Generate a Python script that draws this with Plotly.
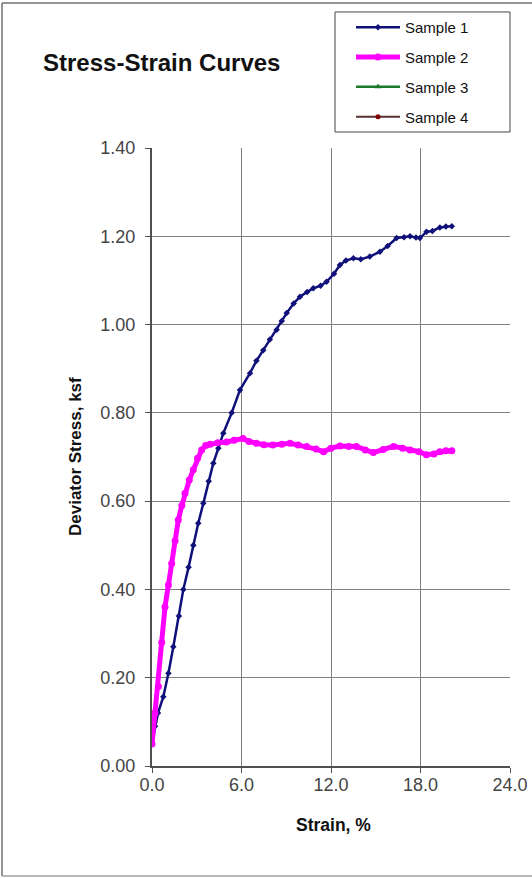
import plotly.graph_objects as go

# ---- data ----
s1_strain = [0.0, 0.2, 0.4, 0.76, 1.1, 1.43, 1.8, 2.1, 2.45, 2.77, 3.1, 3.44, 3.8, 4.11, 4.45,
             4.78, 5.34, 5.9, 6.57, 7.0, 7.46, 7.9, 8.36, 8.7, 9.03, 9.5, 9.92, 10.4, 10.81,
             11.3, 11.7, 12.2, 12.6, 13.0, 13.5, 14.0, 14.6, 15.28, 15.8, 16.4, 16.9, 17.3,
             17.7, 17.96, 18.4, 18.8, 19.3, 19.7, 20.1]
s1_stress = [0.05, 0.09, 0.12, 0.157, 0.21, 0.27, 0.34, 0.40, 0.45, 0.50, 0.55, 0.595, 0.645,
             0.686, 0.72, 0.754, 0.80, 0.852, 0.89, 0.918, 0.942, 0.966, 0.988, 1.008, 1.026,
             1.048, 1.063, 1.074, 1.082, 1.088, 1.097, 1.115, 1.135, 1.145, 1.15, 1.148, 1.154,
             1.165, 1.178, 1.196, 1.198, 1.20, 1.197, 1.196, 1.21, 1.212, 1.22, 1.222, 1.223]

s2_strain = [0.0, 0.2, 0.43, 0.65, 0.87, 1.1, 1.32, 1.55, 1.76, 2.0, 2.21, 2.5, 2.77, 3.05,
             3.33, 3.6, 3.89, 4.4, 5.0, 5.5, 6.1, 6.5, 7.0, 7.5, 8.1, 8.7, 9.25, 9.8, 10.37,
             11.0, 11.5, 12.0, 12.6, 13.2, 13.7, 14.3, 14.83, 15.5, 16.2, 16.8, 17.3, 17.9,
             18.4, 18.9, 19.3, 19.7, 20.1]
s2_stress = [0.05, 0.12, 0.18, 0.28, 0.36, 0.41, 0.459, 0.51, 0.557, 0.59, 0.618, 0.648, 0.671,
             0.697, 0.716, 0.726, 0.729, 0.732, 0.734, 0.738, 0.742, 0.735, 0.731, 0.728, 0.727,
             0.729, 0.731, 0.727, 0.724, 0.718, 0.712, 0.72, 0.725, 0.724, 0.724, 0.716, 0.71,
             0.717, 0.724, 0.72, 0.716, 0.712, 0.705, 0.707, 0.712, 0.714, 0.714]

series_names = ["Sample 1", "Sample 2", "Sample 3", "Sample 4"]
x_ticks = [0, 6, 12, 18, 24]
x_tick_labels = ["0.0", "6.0", "12.0", "18.0", "24.0"]
y_ticks = [0.0, 0.2, 0.4, 0.6, 0.8, 1.0, 1.2, 1.4]
y_tick_labels = ["0.00", "0.20", "0.40", "0.60", "0.80", "1.00", "1.20", "1.40"]

FONT = "Liberation Sans, Arial, sans-serif"

fig = go.Figure()
fig.add_trace(go.Scatter(
    x=s1_strain, y=s1_stress, name=series_names[0], mode="lines+markers",
    line=dict(color="#10107a", width=2.5),
    marker=dict(symbol="diamond", size=5, color="#10107a"),
    legendgroup="g1"))
fig.add_trace(go.Scatter(
    x=s2_strain, y=s2_stress, name=series_names[1], mode="lines+markers",
    line=dict(color="#ff00ff", width=5),
    marker=dict(symbol="circle", size=7, color="#ff00ff"),
    legendgroup="g2"))
fig.add_trace(go.Scatter(
    x=[None], y=[None], name=series_names[2], mode="lines+markers",
    line=dict(color="#1a7a2a", width=2.5),
    marker=dict(symbol="triangle-up", size=6, color="#1a7a2a"),
    legendgroup="g3"))
fig.add_trace(go.Scatter(
    x=[None], y=[None], name=series_names[3], mode="lines+markers",
    line=dict(color="#5a3030", width=2),
    marker=dict(symbol="circle", size=5, color="#800000"),
    legendgroup="g4"))

# outer frame (left, top, bottom edges)
frame = dict(color="#707070", width=1.5)
fig.add_shape(type="line", xref="paper", yref="paper", x0=-0.419, x1=-0.419, y0=-0.178, y1=1.2346, line=frame)
fig.add_shape(type="line", xref="paper", yref="paper", x0=-0.419, x1=1.07, y0=1.2346, y1=1.2346, line=frame)
fig.add_shape(type="line", xref="paper", yref="paper", x0=-0.419, x1=1.07, y0=-0.178, y1=-0.178,
              line=dict(color="#a0a0a0", width=1.5))
# legend box
fig.add_shape(type="rect", xref="paper", yref="paper", x0=0.5112, x1=1.0, y0=1.0259, y1=1.2201,
              line=dict(color="#444", width=1))

fig.add_annotation(text="<b>Stress-Strain Curves</b>", xref="paper", yref="paper",
                   x=-0.310, y=1.139, xanchor="left", yanchor="middle", showarrow=False,
                   font=dict(family=FONT, size=24, color="#111"))
fig.add_annotation(text="<b>Deviator Stress, ksf</b>", xref="paper", yref="paper",
                   x=-0.215, y=0.5, xanchor="center", yanchor="middle", showarrow=False,
                   textangle=-90, font=dict(family=FONT, size=17, color="#111"))
fig.add_annotation(text="<b>Strain, %</b>", xref="paper", yref="paper",
                   x=0.507, y=-0.0955, xanchor="center", yanchor="middle", showarrow=False,
                   font=dict(family=FONT, size=17.5, color="#111"))

fig.update_layout(
    template="none",
    width=532, height=878, autosize=False,
    margin=dict(l=152, r=22, t=148, b=112, autoexpand=False),
    paper_bgcolor="white", plot_bgcolor="white",
    font=dict(family=FONT, size=13, color="#333"),
    showlegend=True,
    legend=dict(x=(351 - 152) / 358, y=(766 - 11) / 618, xanchor="left", yanchor="top",
                borderwidth=0, bgcolor="rgba(0,0,0,0)",
                font=dict(family=FONT, size=15, color="#111"),
                traceorder="grouped", tracegroupgap=7.3,
                itemwidth=44),
    xaxis=dict(range=[0, 24], tickvals=x_ticks, ticktext=x_tick_labels, automargin=False,
               showgrid=True, gridcolor="#808080", gridwidth=1,
               zeroline=False, showline=True, linecolor="#505050", linewidth=2,
               ticks="outside", ticklen=5, tickcolor="#505050",
               ticklabelstandoff=-4,
               tickfont=dict(family=FONT, size=18, color="#444")),
    yaxis=dict(range=[0, 1.4], tickvals=y_ticks, ticktext=y_tick_labels, automargin=False,
               showgrid=True, gridcolor="#808080", gridwidth=1,
               zeroline=False, showline=True, linecolor="#505050", linewidth=2,
               ticks="outside", ticklen=5, tickcolor="#505050",
               ticklabelstandoff=6,
               tickfont=dict(family=FONT, size=18, color="#444")),
)

fig.write_html("out.html", config={"displayModeBar": False, "responsive": False},
               post_script="document.body.style.margin='0';document.body.style.overflow='hidden';")
